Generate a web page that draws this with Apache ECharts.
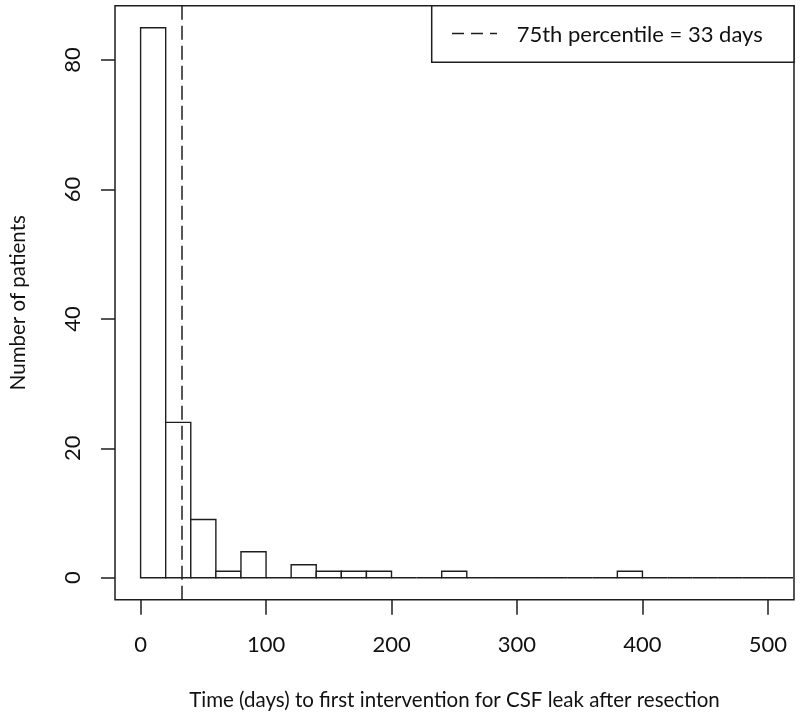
<!DOCTYPE html>
<html><head><meta charset="utf-8">
<script src="https://cdn.jsdelivr.net/npm/echarts@6/dist/echarts.min.js"></script>
<style>html,body{margin:0;padding:0;background:#fff}#c{width:800px;height:719px}</style>
</head><body><div id="c"></div>
<script>
// ---- data ----
const binWidth = 20;
const binStarts = [0,20,40,60,80,100,120,140,160,180,200,220,240,260,280,300,320,340,360,380,400,420,440,460,480,500];
const counts    = [85,24,9,1,4,0,2,1,1,1,0,0,1,0,0,0,0,0,0,1,0,0,0,0,0,0];
const xTicks = [0,100,200,300,400,500];
const yTicks = [0,20,40,60,80];
const percentile75 = 33;
const legendText = '75th percentile = 33 days';
const xTitle = 'Time (days) to first intervention for CSF leak after resection';
const yTitle = 'Number of patients';
const xRange = [-20.4, 520.8];
const yRange = [-3.4, 88.4];

// ---- chart ----
const FONT = 'Lato';
const FS = 22;
const TFS = 20.5;
const INK = '#1e1e1e';
const chart = echarts.init(document.getElementById('c'), null, {renderer:'canvas'});
const histData = binStarts.map((s,i)=>[s, s+binWidth, counts[i]]);

chart.setOption({
  animation:false,
  backgroundColor:'#fff',
  textStyle:{fontFamily:FONT},
  grid:{left:113.7, top:5.7, right:6, bottom:119.3, show:true, borderColor:INK, borderWidth:1.5, backgroundColor:'transparent'},
  xAxis:{
    type:'value', min:xRange[0], max:xRange[1],
    axisLine:{show:false, onZero:false},
    splitLine:{show:false},
    axisTick:{show:true, inside:false, length:15, customValues:xTicks, lineStyle:{color:INK, width:1.5}},
    axisLabel:{show:true, customValues:xTicks, margin:34, fontSize:FS, color:'#111', fontFamily:FONT},
    name:xTitle, nameLocation:'middle', nameGap:90,
    nameTextStyle:{fontSize:TFS, color:'#111', fontFamily:FONT}
  },
  yAxis:{
    type:'value', min:yRange[0], max:yRange[1],
    axisLine:{show:false, onZero:false},
    splitLine:{show:false},
    axisTick:{show:true, inside:false, length:14, customValues:yTicks, lineStyle:{color:INK, width:1.5}},
    axisLabel:{show:true, customValues:yTicks, rotate:90, margin:31, fontSize:FS, color:'#111', fontFamily:FONT},
    name:yTitle, nameLocation:'middle', nameGap:86, nameRotate:90,
    nameTextStyle:{fontSize:TFS, color:'#111', fontFamily:FONT}
  },
  series:[
    {
      type:'custom',
      data:histData,
      encode:{x:[0,1], y:2},
      clip:true,
      renderItem:function(params, api){
        const p0 = api.coord([api.value(0), api.value(2)]);
        const p1 = api.coord([api.value(1), 0]);
        if (api.value(2) === 0) {
          return {type:'line', shape:{x1:p0[0], y1:p1[1], x2:p1[0], y2:p1[1]}, style:{stroke:INK, lineWidth:1.4}};
        }
        return {type:'rect', shape:{x:p0[0], y:p0[1], width:p1[0]-p0[0], height:p1[1]-p0[1]},
                style:{fill:'#fff', stroke:INK, lineWidth:1.4}};
      },
      z:2
    },
    {
      type:'line',
      data:[[percentile75, yRange[0]], [percentile75, yRange[1]]],
      symbol:'none', silent:true,
      lineStyle:{color:INK, width:1.5, type:[14,6]},
      z:3
    }
  ],
  graphic:[
    {type:'rect', shape:{x:431.7, y:5.7, width:362.3, height:56.6}, style:{fill:'#fff', stroke:INK, lineWidth:1.5}, z:10},
    {type:'line', shape:{x1:452, y1:33.5, x2:497, y2:33.5}, style:{stroke:INK, lineWidth:1.5, lineDash:[12,7]}, z:11},
    {type:'text', x:516.7, y:35, style:{text:legendText, font:FS+'px "'+FONT+'"', fill:'#111', verticalAlign:'middle', align:'left'}, z:11}
  ]
});
</script></body></html>
